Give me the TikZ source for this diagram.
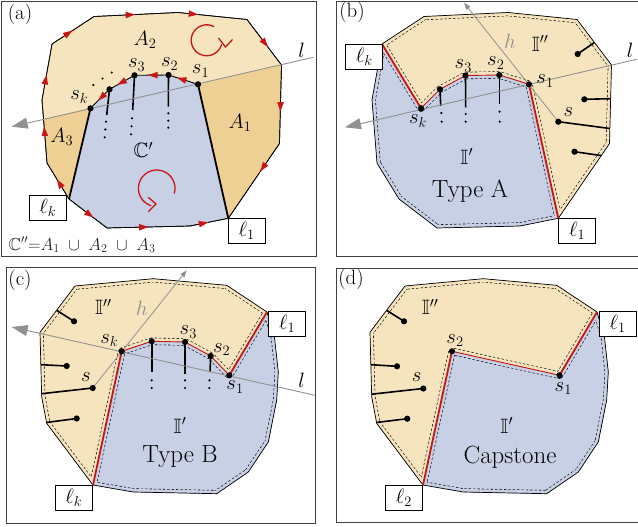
\documentclass[tikz,border=0pt]{standalone}
\usepackage{amssymb}
\usetikzlibrary{arrows.meta,decorations.markings}
\definecolor{lor}{RGB}{246,228,191}
\definecolor{dor}{RGB}{238,207,148}
\definecolor{blu}{RGB}{200,208,229}
\definecolor{rd}{RGB}{200,22,22}
\definecolor{gl}{RGB}{145,145,145}
\newcommand\dashin[2]{\begin{scope}\clip #1;\draw[black,line width=7.3pt,dash pattern=on 2.4pt off 2pt,line join=round] #1;\draw[#2,line width=6.1pt,line join=round] #1;\end{scope}}
\newcommand\dt[1]{\fill (#1) circle (3.1);}
\newcommand\sd[1]{\fill (#1) circle (1.2);}
\newcommand\polyA[1]{\path (52,44) coordinate (#11) (94,16.5) coordinate (#12) (178,12.5) coordinate (#13) (247,19.5) coordinate (#14) (281.5,65) coordinate (#15) (279.5,143.5) coordinate (#16) (228.3,218.3) coordinate (#17) (190,226) coordinate (#18) (107,228) coordinate (#19) (69,199) coordinate (#110) (47,163) coordinate (#111) (42,100) coordinate (#112);}
\newcommand\polyC[1]{\path (75,286) coordinate (#11) (153.3,278.7) coordinate (#12) (226.7,285.3) coordinate (#13) (267,312) coordinate (#14) (274.5,337.5) coordinate (#15) (278.3,372) coordinate (#16) (276.7,400) coordinate (#17) (268.3,442) coordinate (#18) (248.3,472) coordinate (#19) (216.7,493.7) coordinate (#110) (133.3,492) coordinate (#111) (93,485) coordinate (#112) (46.7,423.3) coordinate (#113) (41.7,396.7) coordinate (#114) (40,332.3) coordinate (#115);}
\begin{document}
\begin{tikzpicture}[x=1pt,y=-1pt,
 frame/.style={draw=black!75,line width=0.8pt},
 bnd/.style={draw=black,line width=0.7pt,line join=round},
 thk/.style={line width=1.8pt},
 ra/.style={postaction={decorate},decoration={markings,mark=at position #1 with {\fill[rd] (5,0) -- (-4.5,3.3) -- (-4.5,-3.3) -- cycle;}}},
 lbl/.style={inner sep=0pt,font=\huge},
 big/.style={inner sep=0pt,font=\Huge},
 lbox/.style={draw,fill=white,line width=0.6pt,minimum width=37pt,minimum height=25pt,inner sep=0pt,font=\huge},
 ltip/.style={gl,line width=0.9pt,-{Triangle[length=16pt,width=11pt]}},
 htip/.style={gl,line width=0.8pt,-{Triangle[length=7pt,width=5pt]}},
 redthin/.style={rd,line width=0.9pt},
 redthick/.style={rd,line width=1.8pt},
 spike/.style={line width=1.6pt}]
\useasboundingbox (0,0) rectangle (638,527);
\clip (0,0) rectangle (638,527);
% frames
\draw[frame] (1.5,1.5) rectangle (316,256.5);
\draw[frame] (336,1.5) rectangle (645,256.5);
\draw[frame] (6,267) rectangle (315,523.5);
\draw[frame] (336,268) rectangle (645,522.5);
%================ (a)
\polyA{a}
\path (90.5,108.3) coordinate (ask) (109.5,89.3) coordinate (ap) (134.5,75.3) coordinate (as3) (168.5,75) coordinate (as2) (198,84.3) coordinate (as1)
 (43.5,119.5) coordinate (all) (313.3,57.3) coordinate (alend) (11.7,126.7) coordinate (altip);
\fill[lor] (a1)--(a2)--(a3)--(a4)--(a5)--(a6)--(a7)--(a8)--(a9)--(a10)--(a11)--(a12)--cycle;
\fill[dor] (as1)--(a5)--(a6)--(a7)--cycle;
\fill[dor] (ask)--(all)--(a11)--(a10)--cycle;
\fill[blu] (a10)--(ask)--(ap)--(as3)--(as2)--(as1)--(a7)--(a8)--(a9)--cycle;
\draw[bnd] (a1)--(a2)--(a3)--(a4)--(a5)--(a6)--(a7)--(a8)--(a9)--(a10)--(a11)--(a12)--cycle;
\draw[bnd,ra=0.39] (a1)--(a2);
\draw[bnd,ra=0.43] (a2)--(a3);
\draw[bnd,ra=0.22] (a3)--(a4);
\draw[bnd,ra=0.52] (a4)--(a5);
\draw[bnd,ra=0.53] (a5)--(a6);
\draw[bnd,ra=0.32] (a6)--(a7);
\draw[bnd,ra=0.35] (a8)--(a7);
\draw[bnd,ra=0.44] (a9)--(a8);
\draw[bnd,ra=0.54] (a10)--(a9);
\draw[bnd,ra=0.43] (a10)--(a11);
\draw[bnd,ra=0.5] (a11)--(a12);
\draw[bnd,ra=0.36] (a12)--(a1);
\draw[black,line width=0.9pt,ra=0.55] (as1)--(as2);
\draw[black,line width=0.9pt,ra=0.45] (as2)--(as3);
\draw[black,line width=0.9pt,ra=0.51] (as3)--(ap);
\draw[black,line width=0.9pt,ra=0.41] (ap)--(ask);
\draw[thk] (ask)--(a10);
\draw[thk] (as1)--(a7);
\path (106.7,115) coordinate (apd) (132.7,110) coordinate (as3d) (168.3,106.7) coordinate (as2d);
\draw[spike] (ap)--(apd);
\draw[spike] (as3)--(as3d);
\draw[spike] (as2)--(as2d);
\sd{106,121.7}\sd{105.3,129.5}\sd{104.7,137.3}
\sd{132,118.3}\sd{131.5,126.3}\sd{131,134.3}
\sd{168.3,113.3}\sd{168.3,120.7}\sd{168.3,127.7}
\sd{93.3,85}\sd{102.5,78.5}\sd{111.7,72.5}
\draw[ltip] (alend)--(altip);
\dt{ask}\dt{ap}\dt{as3}\dt{as2}\dt{as1}
\draw[rd,line width=1.3pt] (206.7,40.3) ++(-61.5:15.5) arc[start angle=-61.5,end angle=-345,radius=15.5];
\draw[rd,line width=1.3pt,line join=miter] (218.5,38) -- (225.5,47) -- (232.5,39.5);
\draw[rd,line width=1.3pt] (156.7,188.3) ++(16.8:18.3) arc[start angle=16.8,end angle=-252.3,radius=18.3];
\draw[rd,line width=1.3pt,line join=miter] (148.3,197.3) -- (156,204) -- (148.3,211.7);
\node[lbl] (la) at (20,14) {(a)};
\node[lbl] (aA2) at (145,40) {$A_2$};
\node[lbl] (aA1) at (240,123) {$A_1$};
\node[lbl] (aA3) at (61.7,136.7) {$A_3$};
\node[lbl] (aC) at (143.3,150) {$\mathbb{C}'$};
\node[lbl] (asktx) at (79.3,97) {$s_k$};
\node[lbl] (as3tx) at (136.7,65) {$s_3$};
\node[lbl] (as2tx) at (169.7,64) {$s_2$};
\node[lbl] (as1tx) at (200.5,71) {$s_1$};
\node[lbl] (altx) at (301.7,50) {$l$};
\node[lbox] (aLk) at (47.7,207.5) {$\ell_k$};
\node[lbox] (aL1) at (246.7,230.8) {$\ell_1$};
\node[inner sep=0pt,font=\LARGE,text=black!85] (aform) at (82,245) {$\mathbb{C}''{=}A_1\;\cup\;A_2\;\cup\;A_3$};
%================ (b)
\begin{scope}[shift={(330,0)}]
\polyA{b}
\path (91,108.3) coordinate (bsk) (110,89.3) coordinate (bp) (135.5,75.5) coordinate (bs3) (169.3,75) coordinate (bs2) (199,84.3) coordinate (bs1)
 (306.7,59.3) coordinate (blend) (15,127.3) coordinate (bltip) (228.3,121.7) coordinate (bs) (134,2.7) coordinate (bhtip);
\fill[lor] (b1)--(b2)--(b3)--(b4)--(b5)--(b6)--(b7)--(bs1)--(bs2)--(bs3)--(bp)--(bsk)--cycle;
\fill[blu] (b1)--(bsk)--(bp)--(bs3)--(bs2)--(bs1)--(b7)--(b8)--(b9)--(b10)--(b11)--(b12)--cycle;
\dashin{(b1)--(b2)--(b3)--(b4)--(b5)--(b6)--(b7)--(bs1)--(bs2)--(bs3)--(bp)--(bsk)--cycle}{lor}
\dashin{(b1)--(bsk)--(bp)--(bs3)--(bs2)--(bs1)--(b7)--(b8)--(b9)--(b10)--(b11)--(b12)--cycle}{blu}
\draw[bnd] (b1)--(b2)--(b3)--(b4)--(b5)--(b6)--(b7)--(b8)--(b9)--(b10)--(b11)--(b12)--cycle;
\draw[redthick] (b1)--(bsk);
\draw[redthick] (bs1)--(b7);
\draw[redthin] (bsk)--(bp)--(bs3)--(bs2)--(bs1);
\path (110.7,106) coordinate (bpd) (135.7,107.3) coordinate (bs3d) (169.3,104) coordinate (bs2d);
\draw[spike] (bp)--(bpd);
\draw[spike] (bs3)--(bs3d);
\draw[spike] (bs2)--(bs2d);
\sd{111.3,113}\sd{111.7,121.7}
\sd{135.7,114}\sd{135.7,121.7}
\sd{169.5,111.7}\sd{169.7,121.7}
\path (247.7,54) coordinate (bq1) (264.4,42.5) coordinate (bq1e)
 (254.3,99.3) coordinate (bq2) (280.6,98.7) coordinate (bq2e)
 (279.9,128.5) coordinate (bse)
 (244.5,151.7) coordinate (bq4) (271.3,155.6) coordinate (bq4e);
\draw[spike] (bq1)--(bq1e);
\draw[spike] (bq2)--(bq2e);
\draw[spike] (bs)--(bse);
\draw[spike] (bq4)--(bq4e);
\draw[ltip] (blend)--(bltip);
\draw[htip] (bs)--(bhtip);
\dt{bsk}\dt{bp}\dt{bs3}\dt{bs2}\dt{bs1}\dt{bq1}\dt{bq2}\dt{bs}\dt{bq4}
\node[lbl] (lb) at (22,12) {(b)};
\node[lbl] (bsktx) at (88,121) {$s_k$};
\node[lbl] (bs3tx) at (133.3,66) {$s_3$};
\node[lbl] (bs2tx) at (165.8,63) {$s_2$};
\node[lbl] (bs1tx) at (215,81) {$s_1$};
\node[lbl,text=gl] (bhtx) at (180,41.7) {$h$};
\node[lbl] (bI2) at (210,43.3) {$\mathbb{I}''$};
\node[lbl] (bltx) at (300,50) {$l$};
\node[lbl] (bstx) at (238.3,111.7) {$s$};
\node[lbl] (bI1) at (136.7,156.7) {$\mathbb{I}'$};
\node[big] (btype) at (140,191.7) {Type A};
\node[lbox] (bLk) at (34.2,56.7) {$\ell_k$};
\node[lbox] (bL1) at (247.2,230.8) {$\ell_1$};
\end{scope}
%================ (c)
\polyC{c}
\path (121.7,351.3) coordinate (csk) (151.7,341.3) coordinate (cp) (185,342) coordinate (cs3) (210.7,356) coordinate (cs2) (229.3,375.3) coordinate (cs1)
 (315,395.3) coordinate (clend) (11.7,327) coordinate (cltip) (92.7,388) coordinate (cs) (186.7,270.3) coordinate (chtip);
\fill[lor] (c12)--(c13)--(c14)--(c15)--(c1)--(c2)--(c3)--(c4)--(cs1)--(cs2)--(cs3)--(cp)--(csk)--cycle;
\fill[blu] (c12)--(csk)--(cp)--(cs3)--(cs2)--(cs1)--(c4)--(c5)--(c6)--(c7)--(c8)--(c9)--(c10)--(c11)--cycle;
\dashin{(c12)--(c13)--(c14)--(c15)--(c1)--(c2)--(c3)--(c4)--(cs1)--(cs2)--(cs3)--(cp)--(csk)--cycle}{lor}
\dashin{(c12)--(csk)--(cp)--(cs3)--(cs2)--(cs1)--(c4)--(c5)--(c6)--(c7)--(c8)--(c9)--(c10)--(c11)--cycle}{blu}
\draw[bnd] (c1)--(c2)--(c3)--(c4)--(c5)--(c6)--(c7)--(c8)--(c9)--(c10)--(c11)--(c12)--(c13)--(c14)--(c15)--cycle;
\draw[redthick] (c12)--(csk);
\draw[redthick] (cs1)--(c4);
\draw[redthin] (csk)--(cp)--(cs3)--(cs2)--(cs1);
\path (151.7,372) coordinate (cpd) (185,373.7) coordinate (cs3d) (210,372) coordinate (cs2d);
\draw[spike] (cp)--(cpd);
\draw[spike] (cs3)--(cs3d);
\draw[spike] (cs2)--(cs2d);
\sd{151.7,380.3}\sd{151.7,388}
\sd{185,380.3}\sd{185,388}
\sd{209.5,380.3}\sd{209.3,388}
\path (74,321.3) coordinate (cq1) (56.6,310.3) coordinate (cq1e)
 (66.7,366) coordinate (cq2) (40.9,364.7) coordinate (cq2e)
 (41.6,393.7) coordinate (cse)
 (76.7,418.5) coordinate (cq4) (46.3,422.5) coordinate (cq4e);
\draw[spike] (cq1)--(cq1e);
\draw[spike] (cq2)--(cq2e);
\draw[spike] (cs)--(cse);
\draw[spike] (cq4)--(cq4e);
\draw[ltip] (clend)--(cltip);
\draw[htip] (cs)--(chtip);
\dt{csk}\dt{cp}\dt{cs3}\dt{cs2}\dt{cs1}\dt{cq1}\dt{cq2}\dt{cs}\dt{cq4}
\node[lbl] (lc) at (20,280) {(c)};
\node[lbl] (csktx) at (109.3,340.3) {$s_k$};
\node[lbl] (cs3tx) at (188.3,332) {$s_3$};
\node[lbl] (cs2tx) at (221.7,349.3) {$s_2$};
\node[lbl] (cs1tx) at (235,387) {$s_1$};
\node[lbl,text=gl] (chtx) at (141.7,308.7) {$h$};
\node[lbl] (cI2) at (103.3,307) {$\mathbb{I}''$};
\node[lbl] (cltx) at (301.7,380.3) {$l$};
\node[lbl] (cstx) at (86,377) {$s$};
\node[lbl] (cI1) at (180,425.3) {$\mathbb{I}'$};
\node[big] (ctype) at (180,457) {Type B};
\node[lbox] (cL1) at (287.2,324) {$\ell_1$};
\node[lbox] (cLk) at (73.8,497.8) {$\ell_k$};
%================ (d)
\begin{scope}[shift={(330,0)}]
\polyC{d}
\path (122,351.3) coordinate (ds2) (229.5,375.3) coordinate (ds1) (93.3,388.5) coordinate (ds);
\fill[lor] (d12)--(d13)--(d14)--(d15)--(d1)--(d2)--(d3)--(d4)--(ds1)--(ds2)--cycle;
\fill[blu] (d12)--(ds2)--(ds1)--(d4)--(d5)--(d6)--(d7)--(d8)--(d9)--(d10)--(d11)--cycle;
\dashin{(d12)--(d13)--(d14)--(d15)--(d1)--(d2)--(d3)--(d4)--(ds1)--(ds2)--cycle}{lor}
\dashin{(d12)--(ds2)--(ds1)--(d4)--(d5)--(d6)--(d7)--(d8)--(d9)--(d10)--(d11)--cycle}{blu}
\draw[bnd] (d1)--(d2)--(d3)--(d4)--(d5)--(d6)--(d7)--(d8)--(d9)--(d10)--(d11)--(d12)--(d13)--(d14)--(d15)--cycle;
\draw[redthick] (d12)--(ds2);
\draw[redthick] (ds1)--(d4);
\draw[redthin] (ds2)--(ds1);
\path (74,321.3) coordinate (dq1) (56.6,310.3) coordinate (dq1e)
 (67,366.3) coordinate (dq2) (40.9,364.7) coordinate (dq2e)
 (41.6,394.2) coordinate (dse)
 (77.3,418.7) coordinate (dq4) (46.3,422.5) coordinate (dq4e);
\draw[spike] (dq1)--(dq1e);
\draw[spike] (dq2)--(dq2e);
\draw[spike] (ds)--(dse);
\draw[spike] (dq4)--(dq4e);
\dt{ds2}\dt{ds1}\dt{dq1}\dt{dq2}\dt{ds}\dt{dq4}
\node[lbl] (ld) at (21,279) {(d)};
\node[lbl] (ds2tx) at (125,340.3) {$s_2$};
\node[lbl] (ds1tx) at (233.3,388.7) {$s_1$};
\node[lbl] (dI2) at (100,307) {$\mathbb{I}''$};
\node[lbl] (dstx) at (86.7,377) {$s$};
\node[lbl] (dI1) at (176.7,425.3) {$\mathbb{I}'$};
\node[big] (dtype) at (180,457) {Capstone};
\node[lbox] (dL1) at (287.7,324) {$\ell_1$};
\node[lbox] (dL2) at (73.8,497.5) {$\ell_2$};
\end{scope}
\end{tikzpicture}
\end{document}
